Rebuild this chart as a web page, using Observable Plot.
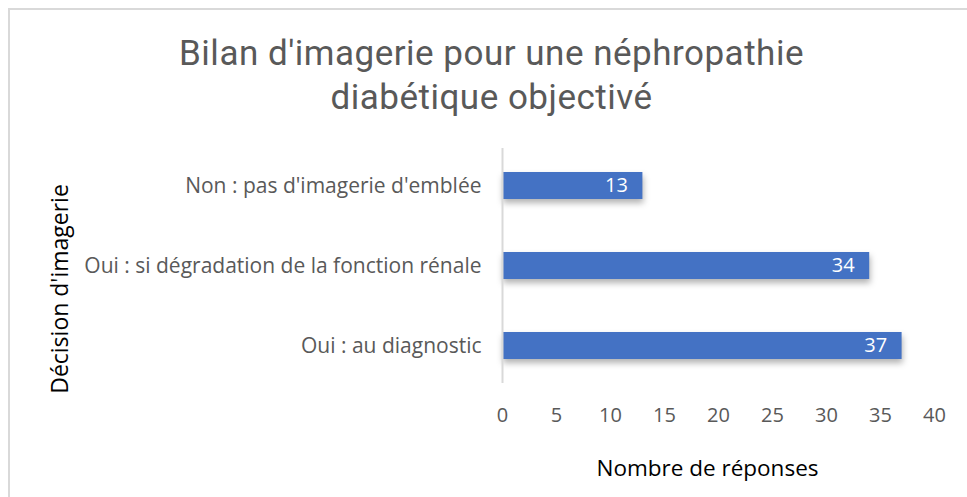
<!DOCTYPE html>
<html>
<head>
<meta charset="utf-8">
<script src="https://cdn.jsdelivr.net/npm/d3@7"></script>
<script src="https://cdn.jsdelivr.net/npm/@observablehq/plot@0.6"></script>
<style>
  html, body { margin: 0; padding: 0; background: #fff; overflow: hidden; }
  #wrap { position: relative; width: 967px; height: 497px; }
  #frame { position: absolute; left: 8px; top: 8px; width: 980px; height: 520px;
           border-left: 2px solid #d9d9d9; border-top: 2px solid #d9d9d9; box-sizing: border-box; pointer-events: none; }
  #chart { position: absolute; left: 0; top: 0; }
</style>
</head>
<body>
<div id="wrap"><div id="chart"></div><div id="frame"></div></div>
<script>
const titleLine1 = "Bilan d'imagerie pour une néphropathie";
const titleLine2 = "diabétique objectivé";
const categories = ["Non : pas d'imagerie d'emblée", "Oui : si dégradation de la fonction rénale", "Oui : au diagnostic"];
const values = [13, 34, 37];
const xTicks = [0, 5, 10, 15, 20, 25, 30, 35, 40];
const xLabel = "Nombre de réponses";
const yLabel = "Décision d'imagerie";

const data = categories.map((c, i) => ({category: c, value: values[i]}));

const chart = Plot.plot({
  width: 967,
  height: 497,
  marginLeft: 502,
  marginRight: 33,
  marginTop: 148,
  marginBottom: 114,
  style: {background: "transparent", overflow: "visible"},
  x: {domain: [0, 40], axis: null},
  y: {domain: categories, paddingInner: 0.6625, paddingOuter: 0.3, axis: null},
  marks: [
    Plot.axisX({ticks: xTicks, tickSize: 0, tickPadding: 24, fontSize: 20, fill: "#595959", label: null, className: "xt"}),
    Plot.axisY({tickSize: 0, tickPadding: 21, fill: "#595959", fontSize: 21, label: null, className: "yt"}),
    Plot.barX(data, {x: "value", y: "category", fill: "#4472C4"}),
    Plot.ruleX([0], {stroke: "#d9d9d9", strokeWidth: 2}),
    Plot.text(data, {x: "value", y: "category", text: d => String(d.value), textAnchor: "end", dx: -15,
      fill: "white", fontSize: 20}),
    Plot.text([xLabel], {frameAnchor: "bottom", dx: -11, dy: 92, fontSize: 22.5, fill: "#000"}),
    Plot.text([yLabel], {frameAnchor: "left", textAnchor: "middle", dx: -442, dy: 23, rotate: -90, fontSize: 23, fill: "#000"}),
    Plot.text([titleLine1], {frameAnchor: "top", dx: -227, dy: -95, lineAnchor: "middle", fontSize: 35, fill: "#595959", className: "ttl"}),
    Plot.text([titleLine2], {frameAnchor: "top", dx: -227, dy: -51, lineAnchor: "middle", fontSize: 35, fill: "#595959", className: "ttl"})
  ]
});
document.getElementById("chart").appendChild(chart);

const svg = d3.select(chart);
svg.selectAll("text").style("font-family", "'Open Sans', sans-serif");
svg.selectAll(".ttl text").style("font-family", "Roboto, sans-serif").style("letter-spacing", "0.5px");
svg.selectAll('g[aria-label="bar"]').style("filter", "drop-shadow(1px 4px 3px rgba(0,0,0,0.3))");
</script>
</body>
</html>
